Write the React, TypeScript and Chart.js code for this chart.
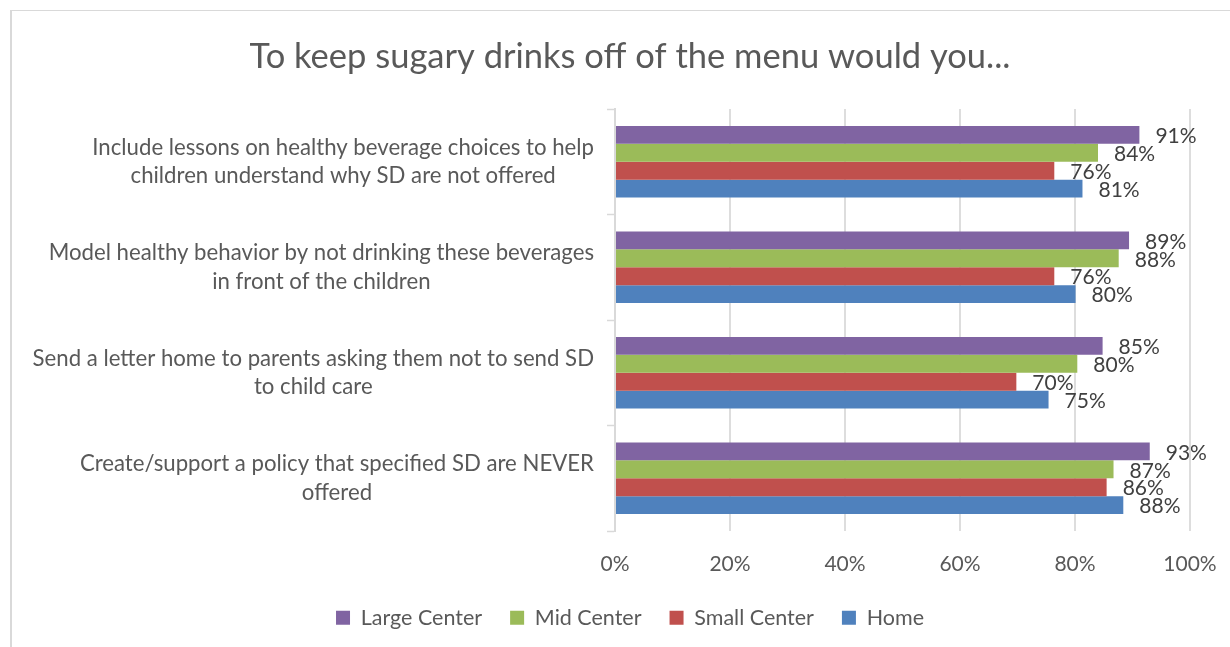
import React, { useEffect, useRef } from "react";
import { Chart, registerables } from "chart.js";

Chart.register(...registerables);

const TITLE = "To keep sugary drinks off of the menu would you...";

const categories: string[][] = [
  ["Include lessons on healthy beverage choices to help", "children understand why SD are not offered"],
  ["Model healthy behavior by not drinking these beverages", "in front of the children"],
  ["Send a letter home to parents asking them not to send SD", "to child care"],
  ["Create/support a policy that specified SD are NEVER", "offered"],
];

const seriesNames = ["Large Center", "Mid Center", "Small Center", "Home"];
const seriesColors = ["#8064A2", "#9BBB59", "#C0504D", "#4F81BD"];

const largeCenter = [91.2, 89.4, 84.8, 93.0];
const midCenter = [84.0, 87.6, 80.4, 86.7];
const smallCenter = [76.4, 76.4, 69.8, 85.5];
const home = [81.3, 80.1, 75.4, 88.4];

const xTicks = [0, 20, 40, 60, 80, 100];

const FONT = "Lato, 'Open Sans', sans-serif";
const TEXT = "#595959";

const yLabelPlugin = {
  id: "yLabelPlugin",
  afterDraw(chart: any) {
    const scale = chart.scales.y;
    const ctx = chart.ctx;
    const labels = chart.data.labels as string[][];
    ctx.save();
    ctx.font = `22.2px ${FONT}`;
    ctx.fillStyle = TEXT;
    ctx.textBaseline = "middle";
    ctx.textAlign = "center";
    const right = scale.right - 21;
    const lh = 28.5;
    labels.forEach((lines, i) => {
      const y = scale.getPixelForValue(i);
      const w = Math.max(...lines.map((l) => ctx.measureText(l).width));
      const cx = right - w / 2;
      lines.forEach((l, j) => {
        ctx.fillText(l, cx, y + (j - (lines.length - 1) / 2) * lh);
      });
    });
    ctx.restore();
  },
};

const dataLabelPlugin = {
  id: "dataLabelPlugin",
  afterDatasetsDraw(chart: any) {
    const ctx = chart.ctx;
    ctx.save();
    ctx.font = `21px ${FONT}`;
    ctx.fillStyle = "#404040";
    ctx.textBaseline = "middle";
    ctx.textAlign = "left";
    chart.data.datasets.forEach((ds: any, di: number) => {
      const meta = chart.getDatasetMeta(di);
      meta.data.forEach((el: any, i: number) => {
        const v = ds.data[i];
        ctx.fillText(`${Math.round(v)}%`, el.x + 16, el.y + 1.5);
      });
    });
    ctx.restore();
  },
};

export default function App() {
  const ref = useRef<HTMLCanvasElement>(null);
  useEffect(() => {
    if (!ref.current) return;
    const values = [largeCenter, midCenter, smallCenter, home];
    const chart = new Chart(ref.current, {
      type: "bar",
      data: {
        labels: categories as any,
        datasets: seriesNames.map((name, i) => ({
          label: name,
          data: values[i],
          backgroundColor: seriesColors[i],
          borderWidth: 0,
          barPercentage: 1,
          categoryPercentage: 0.68,
        })),
      },
      options: {
        indexAxis: "y",
        animation: false,
        responsive: false,
        layout: { padding: { left: 58, right: 40, top: 0, bottom: 8.5 } },
        plugins: {
          title: {
            display: true,
            text: TITLE,
            color: TEXT,
            font: { family: FONT, size: 34.5, weight: "normal" },
            padding: { top: 25.3, bottom: 31.3 },
          },
          legend: {
            position: "bottom",
            labels: {
              color: TEXT,
              font: { family: FONT, size: 21.5 },
              boxWidth: 14,
              boxHeight: 14,
              padding: 28,
            },
          },
          tooltip: { enabled: false },
        },
        scales: {
          x: {
            min: 0,
            max: 100,
            afterBuildTicks: (scale: any) => {
              scale.ticks = xTicks.map((v) => ({ value: v }));
            },
            afterFit: (scale: any) => {
              scale.height = 48;
            },
            ticks: {
              color: TEXT,
              font: { family: FONT, size: 21 },
              padding: 0,
              callback: (v: any) => `${v}%`,
            },
            grid: {
              color: "#DDDDDD",
              lineWidth: 2,
              drawTicks: true,
              tickLength: 21,
              tickColor: "rgba(0,0,0,0)",
            },
            border: { display: false },
          },
          y: {
            afterFit: (scale: any) => {
              scale.width = 545;
            },
            ticks: { color: "rgba(0,0,0,0)", font: { family: FONT, size: 21 } },
            grid: {
              drawOnChartArea: false,
              drawTicks: true,
              tickLength: 8,
              tickWidth: 1.5,
              color: "#D9D9D9",
            },
            border: { display: true, color: "#D9D9D9", width: 2 },
          },
        },
      },
      plugins: [yLabelPlugin, dataLabelPlugin],
    });
    return () => chart.destroy();
  }, []);

  return (
    <div
      style={{
        position: "absolute",
        left: 10,
        top: 10,
        width: 1220,
        height: 637,
        borderLeft: "2px solid #D9D9D9",
        borderTop: "1px solid #D9D9D9",
        boxSizing: "border-box",
        background: "#fff",
      }}
    >
      <canvas ref={ref} width={1218} height={636} style={{ display: "block" }} />
    </div>
  );
}
